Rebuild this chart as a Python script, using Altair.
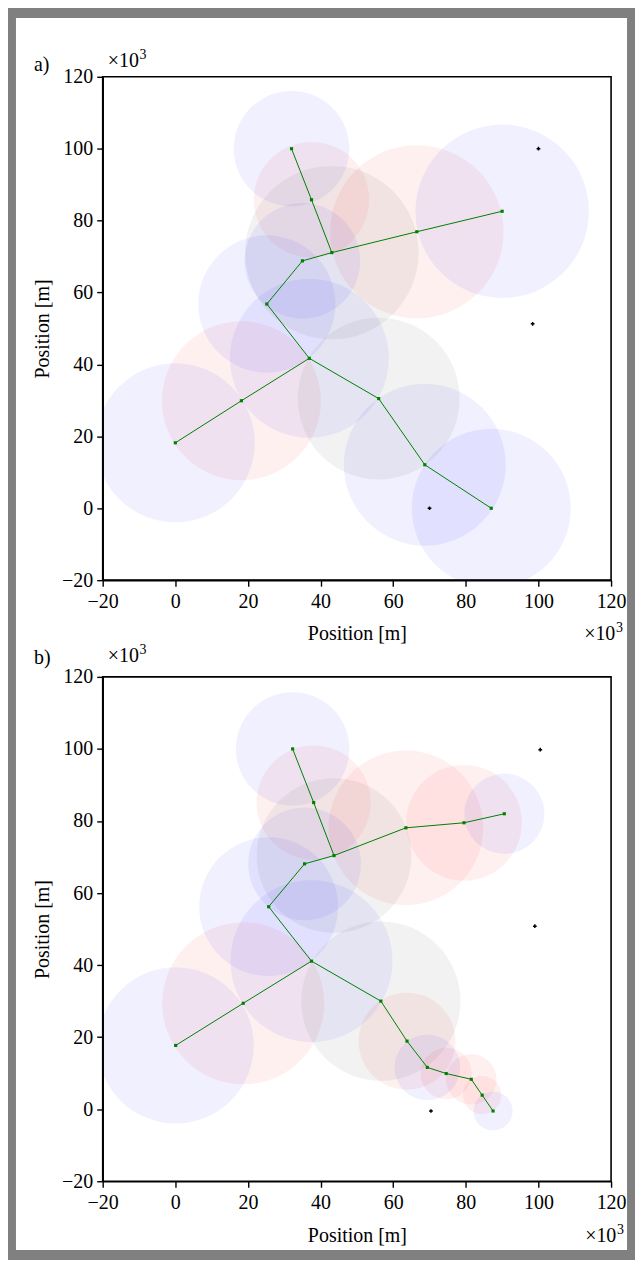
import altair as alt
import pandas as pd

FONT = "Liberation Serif"
TICKS = [-20, 0, 20, 40, 60, 80, 100, 120]
DOMAIN = [-20, 120]

# ---------------- panel a) ----------------
A_NODE_X = [32.0, 37.5, 43.1, 66.5, 90.0, 35.0, 25.2, 36.9, 18.2, 0.0, 56.0, 68.7, 87.0]
A_NODE_Y = [100.0, 85.8, 71.1, 76.9, 82.6, 68.8, 56.8, 41.7, 29.9, 18.2, 30.5, 12.1, 0.0]
A_RADIUS = [16.0, 16.0, 24.0, 24.0, 24.0, 16.0, 19.0, 22.0, 22.0, 22.0, 22.4, 22.4, 22.0]
A_KIND = ["blue", "red", "gray", "red", "blue", "blue", "blue", "blue", "red", "blue",
          "gray", "blue", "blue"]
A_EDGE_FROM = [0, 1, 2, 3, 2, 5, 6, 7, 8, 7, 10, 11]
A_EDGE_TO = [1, 2, 3, 4, 5, 6, 7, 8, 9, 10, 11, 12]
A_MARK_X = [100.0, 98.4, 70.0]
A_MARK_Y = [100.0, 51.3, 0.0]

# ---------------- panel b) ----------------
B_NODE_X = [32.3, 38.1, 43.7, 63.5, 79.5, 90.6, 35.6, 25.7, 37.5, 18.7, 0.1, 56.6, 63.8,
            69.4, 74.6, 81.5, 84.5, 87.5]
B_NODE_Y = [100.0, 85.1, 70.4, 78.1, 79.5, 82.0, 68.1, 56.2, 41.1, 29.4, 17.7, 30.0, 18.9,
            11.6, 9.9, 8.3, 3.9, -0.5]
B_RADIUS = [15.7, 15.8, 21.4, 21.4, 16.0, 11.1, 15.6, 19.2, 22.4, 22.4, 21.6, 22.0, 13.4,
            9.1, 7.1, 7.0, 5.3, 5.4]
B_KIND = ["blue", "red", "gray", "red", "red", "blue", "blue", "blue", "blue", "red", "blue",
          "gray", "red", "blue", "red", "red", "red", "blue"]
B_EDGE_FROM = [0, 1, 2, 3, 4, 2, 6, 7, 8, 9, 8, 11, 12, 13, 14, 15, 16]
B_EDGE_TO = [1, 2, 3, 4, 5, 6, 7, 8, 9, 10, 11, 12, 13, 14, 15, 16, 17]
B_MARK_X = [100.5, 99.0, 70.4]
B_MARK_Y = [99.8, 50.8, -0.5]

# ---------------- styling ----------------
W = 510
H_A = 505
H_B = 506
FILL = {"blue": "#0000ff", "red": "#ff0000", "gray": "#808080"}
ALPHA = {"blue": 0.06, "red": 0.06, "gray": 0.10}


def text_layer(s, x, y, size=20):
    return alt.Chart(pd.DataFrame({"t": [s]})).mark_text(
        font=FONT, fontSize=size, align="left", baseline="alphabetic", color="black"
    ).encode(text="t:N", x=alt.value(x), y=alt.value(y))


def build_panel(nx, ny, nr, kind, ef, et, mx, my, H, texts, white_bottom=None):
    k = (W + H) / 280.0
    nodes = pd.DataFrame({"x": nx, "y": ny, "r": nr, "kind": kind})
    nodes["fill"] = nodes["kind"].map(FILL)
    nodes["alpha"] = nodes["kind"].map(ALPHA)
    nodes["size"] = (2 * nodes["r"] * k) ** 2
    edges = pd.DataFrame({
        "x": [nx[i] for i in ef], "y": [ny[i] for i in ef],
        "x2": [nx[j] for j in et], "y2": [ny[j] for j in et],
    })
    marks = pd.DataFrame({"x": mx, "y": my})
    frame = pd.DataFrame({"x": [DOMAIN[0]], "x2": [DOMAIN[1]],
                          "y": [DOMAIN[0]], "y2": [DOMAIN[1]]})

    xs = alt.Scale(domain=DOMAIN, nice=False, zero=False)
    ys = alt.Scale(domain=DOMAIN, nice=False, zero=False)

    lab = dict(grid=False, domainColor="black", domainWidth=1.6, zindex=1,
               labelFont=FONT, labelFontSize=20, labelColor="black", labelFlush=False,
               labelOverlap=False, tickColor="black", tickWidth=1.4, tickSize=6,
               titleFont=FONT, titleFontSize=20, titleFontWeight="normal", titleColor="black",
               values=TICKS, format="d")
    x_axis = alt.Axis(orient="bottom", title="Position [m]", labelPadding=5,
                      titleX=W / 2, titleY=60, titleAlign="center",
                      titleBaseline="alphabetic", titleAngle=0, **lab)
    y_axis = alt.Axis(orient="left", title="Position [m]", labelPadding=4,
                      titleX=-54, titleY=H / 2, titleAlign="center",
                      titleBaseline="alphabetic", titleAngle=270, **lab)

    layers = []
    if white_bottom is not None:
        layers.append(
            alt.Chart(pd.DataFrame({"k": [0]})).mark_rect(color="white", opacity=1).encode(
                x=alt.value(-87), x2=alt.value(526), y=alt.value(-59), y2=alt.value(white_bottom)
            )
        )

    circles = alt.Chart(nodes).mark_circle(clip=True).encode(
        x=alt.X("x:Q", scale=xs, axis=x_axis),
        y=alt.Y("y:Q", scale=ys, axis=y_axis),
        size=alt.Size("size:Q", scale=None),
        color=alt.Color("fill:N", scale=None),
        opacity=alt.Opacity("alpha:Q", scale=None),
    )
    lines = alt.Chart(edges).mark_rule(color="#008000", strokeWidth=1).encode(
        x=alt.X("x:Q", scale=xs, axis=None),
        y=alt.Y("y:Q", scale=ys, axis=None),
        x2="x2:Q",
        y2="y2:Q",
    )
    node_pts = alt.Chart(nodes).mark_square(color="#008000", size=10, opacity=1).encode(
        x=alt.X("x:Q", scale=xs, axis=None),
        y=alt.Y("y:Q", scale=ys, axis=None),
    )
    black_pts = alt.Chart(marks).mark_point(shape="cross", filled=True, color="black",
                                            size=14, opacity=1).encode(
        x=alt.X("x:Q", scale=xs, axis=None),
        y=alt.Y("y:Q", scale=ys, axis=None),
    )
    frame_layer = alt.Chart(frame).mark_rect(
        filled=False, stroke="black", strokeWidth=1.6, fillOpacity=0
    ).encode(
        x=alt.X("x:Q", scale=xs, axis=None),
        x2="x2:Q",
        y=alt.Y("y:Q", scale=ys, axis=None),
        y2="y2:Q",
    )
    layers += [circles, lines, node_pts, black_pts, frame_layer]
    layers += [text_layer(*t) for t in texts]

    return alt.layer(*layers).resolve_axis(x="independent", y="independent").properties(
        width=W, height=H
    )


panel_a = build_panel(
    A_NODE_X, A_NODE_Y, A_RADIUS, A_KIND, A_EDGE_FROM, A_EDGE_TO, A_MARK_X, A_MARK_Y, H_A,
    texts=[("a)", -69, -6), ("×10", 5, -10), ("3", 37, -18, 14),
           ("×10", 483, 565), ("3", 515, 557, 14)],
    white_bottom=1177,
)
panel_b = build_panel(
    B_NODE_X, B_NODE_Y, B_RADIUS, B_KIND, B_EDGE_FROM, B_EDGE_TO, B_MARK_X, B_MARK_Y, H_B,
    texts=[("b)", -69, -13), ("×10", 5, -15), ("3", 37, -23, 14),
           ("×10", 484, 567), ("3", 516, 559, 14)],
)

chart = alt.vconcat(panel_a, panel_b, spacing=97, bounds="flush").properties(
    background="#808080", padding=7
).configure_view(stroke="transparent", fill="transparent")

chart.save("out.html", embed_options={"renderer": "svg", "actions": False})
